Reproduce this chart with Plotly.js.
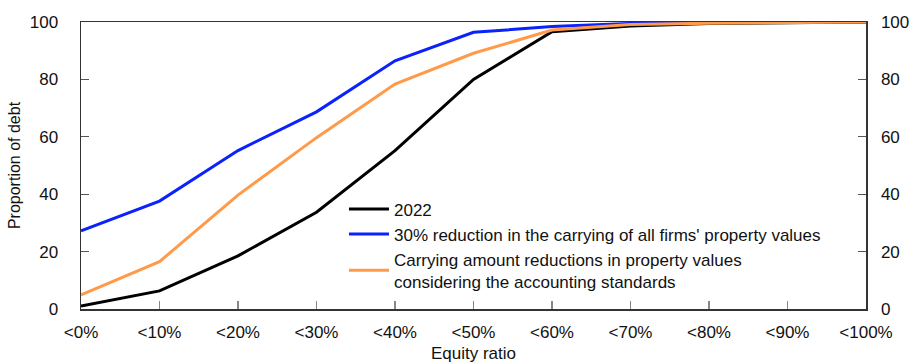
<!DOCTYPE html>
<html>
<head>
<meta charset="utf-8">
<script src="https://cdn.plot.ly/plotly-3.0.1.min.js"></script>
<style>html,body{margin:0;padding:0;background:#fff}#chart{width:920px;height:363px}</style>
</head>
<body>
<div id="chart"></div>
<script>
const categories = ['<0%','<10%','<20%','<30%','<40%','<50%','<60%','<70%','<80%','<90%','<100%'];
const series2022 = [1, 6.3, 18.5, 33.7, 55.2, 80.0, 96.6, 98.6, 99.5, 99.8, 100];
const seriesReduction30 = [27.2, 37.6, 55.2, 68.7, 86.5, 96.4, 98.4, 99.5, 99.8, 100, 100];
const seriesAccounting = [4.9, 16.5, 39.7, 59.7, 78.4, 89.1, 97.2, 99.1, 99.6, 99.8, 100];
const names = ['2022', "30% reduction in the carrying of all firms' property values", 'Carrying amount reductions in property values<br>considering the accounting standards'];
const colors = ['#000000', '#0a22fb', '#ff9a4a'];

const font = {family: '"Liberation Sans", Arial, sans-serif', size: 17, color: '#111'};
const titleFont = {family: '"Liberation Sans", Arial, sans-serif', size: 16, color: '#111'};
const traces = [series2022, seriesReduction30, seriesAccounting].map((s, i) => ({
  x: categories, y: s, type: 'scatter', mode: 'lines', name: names[i],
  line: {color: colors[i], width: 3}
}));
traces.push({x: categories, y: series2022, yaxis: 'y2', type: 'scatter', mode: 'lines', showlegend: false, hoverinfo: 'skip', line: {color: 'rgba(0,0,0,0)', width: 0}});

const layout = {
  width: 920, height: 363,
  margin: {l: 81, r: 54, t: 22, b: 54},
  font: font,
  paper_bgcolor: '#fff', plot_bgcolor: '#fff',
  showlegend: true,
  legend: {x: 0.335, y: 0.41, xanchor: 'left', yanchor: 'top', bgcolor: 'rgba(0,0,0,0)', font: font, tracegroupgap: 0, itemwidth: 40},
  xaxis: {
    type: 'category', range: [0, 10], showgrid: false, zeroline: false,
    showline: true, linecolor: '#333', linewidth: 1.5, mirror: true,
    ticks: 'inside', ticklen: 8, tickcolor: '#888', tickwidth: 1.5,
    ticklabelstandoff: 7,
    title: {text: 'Equity ratio', font: font, standoff: 9}
  },
  yaxis: {
    range: [0, 100], dtick: 20, showgrid: false, zeroline: false,
    showline: true, linecolor: '#333', linewidth: 1.5,
    ticks: 'inside', ticklen: 8, tickcolor: '#555', ticklabelstandoff: 18,
    title: {text: 'Proportion of debt', font: titleFont, standoff: 5}
  },
  yaxis2: {
    overlaying: 'y', side: 'right', range: [0, 100], dtick: 20, showgrid: false, zeroline: false,
    showline: true, linecolor: '#333', linewidth: 1.5,
    ticks: 'inside', ticklen: 8, tickcolor: '#555', ticklabelstandoff: 10
  }
};
Plotly.newPlot('chart', traces, layout, {staticPlot: true, displayModeBar: false});
</script>
</body>
</html>
